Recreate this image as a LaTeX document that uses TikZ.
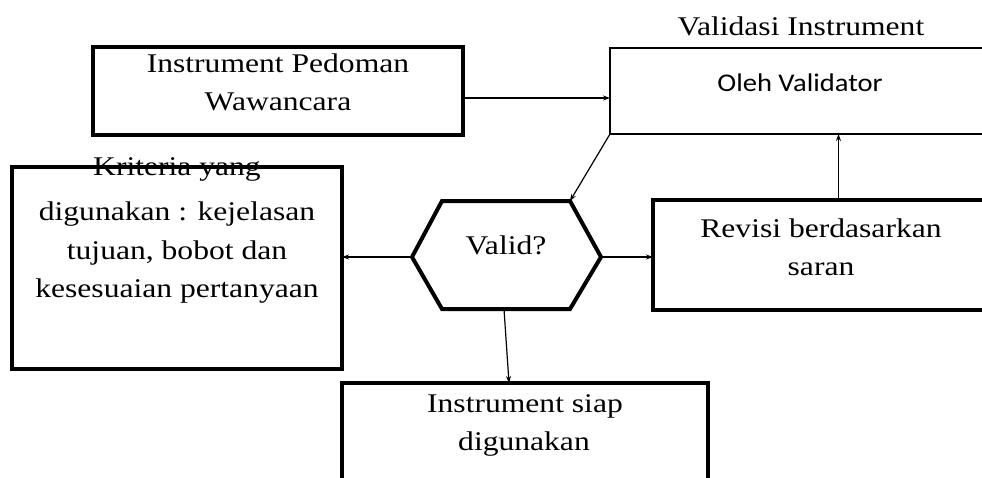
\documentclass[tikz,border=0pt]{standalone}
\usepackage{fontspec}
\setmainfont[FakeStretch=1.17]{Liberation Serif}
\newfontfamily\calib[FakeStretch=1.12]{Carlito}
\usetikzlibrary{arrows.meta}
\tikzset{
  thickbox/.style={draw, line width=4pt, inner sep=0pt, outer sep=0pt},
  thinbox/.style={draw, line width=1.6pt, inner sep=0pt, outer sep=0pt},
  txt/.style={anchor=base, inner sep=0pt, font=\fontsize{27pt}{32pt}\selectfont},
  stxt/.style={anchor=base, inner sep=0pt, font=\calib\fontsize{25.5pt}{30pt}\selectfont},
  arr/.style={line width=1.2pt, -{Stealth[length=7pt,width=5pt]}}
}
\begin{document}
\begin{tikzpicture}[x=1pt,y=-1pt]
\clip (0,0) rectangle (982,477);
\fill[white] (0,0) rectangle (982,477);
% boxes
\node[thickbox, minimum width=370pt, minimum height=88pt] (b1) at (278,91) {};
\node[thinbox, minimum width=390pt, minimum height=86pt] (b2) at (805,91) {};
\node[thickbox, minimum width=330pt, minimum height=202pt] (krit) at (177,268) {};
\node[thickbox, minimum width=347pt, minimum height=110pt] (rev) at (826.5,255) {};
\node[thickbox, minimum width=366pt, minimum height=117pt] (siap) at (525,441.5) {};
% hexagon
\coordinate (hexL) at (412,257);
\coordinate (hexR) at (601,257);
\coordinate (hexTR) at (570,201);
\coordinate (hexB) at (504,309);
\draw[line width=4pt, line join=miter] (hexL) -- (442,201) -- (hexTR) -- (hexR) -- (570,309) -- (442,309) -- cycle;
% texts
\node[txt] (t1a) at (278,72) {Instrument Pedoman};
\node[txt] (t1b) at (278,110) {Wawancara};
\node[txt] (t2) at (801,35) {Validasi Instrument};
\node[stxt] (t3) at (800,91) {Oleh Validator};
\node[txt] (k1) at (177,175) {Kriteria yang};
\node[txt] (k2) at (177,220) {digunakan : kejelasan};
\node[txt] (k3) at (177,259) {tujuan, bobot dan};
\node[txt] (k4) at (177,297) {kesesuaian pertanyaan};
\node[txt] (valid) at (506,254) {Valid?};
\node[txt] (r1) at (821,237) {Revisi berdasarkan};
\node[txt] (r2) at (821,275) {saran};
\node[txt] (s1) at (525,412) {Instrument siap};
\node[txt] (s2) at (524,450) {digunakan};
% connectors
\coordinate (sIn) at (509,383);
\draw[arr] ([yshift=-7pt]b1.east) -- ([yshift=-7pt]b1.east -| b2.west);
\draw[arr] (b2.south west) -- (hexTR);
\draw[arr] ([xshift=12pt]rev.north) -- ([xshift=12pt]rev.north |- b2.south);
\draw[arr] (hexL) -- (krit.east |- hexL);
\draw[arr] (hexR) -- (rev.west |- hexR);
\draw[arr] (hexB) -- (sIn);
\end{tikzpicture}
\end{document}
